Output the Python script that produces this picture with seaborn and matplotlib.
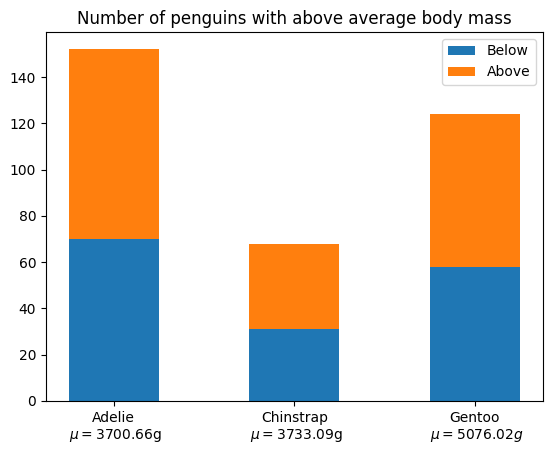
import numpy as np
import pandas as pd
import matplotlib.pyplot as plt
import seaborn as sns

# Data
species = [
    "Adelie\n $\\mu=$3700.66g",
    "Chinstrap\n $\\mu=$3733.09g",
    "Gentoo\n $\\mu=5076.02g$",
]
below = [70, 31, 58]
above = [82, 37, 66]

df = pd.DataFrame({"species": species, "Below": below, "Above": above})

fig, ax = plt.subplots(figsize=(5.52, 4.55), dpi=100)
fig.subplots_adjust(left=0.0833, right=0.983, top=0.930, bottom=0.1187)

sns.barplot(data=df, x="species", y="Below", color="tab:blue", saturation=1,
            width=0.5, label="Below", ax=ax)
sns.barplot(data=df, x="species", y="Above", color="tab:orange", saturation=1,
            width=0.5, label="Above", bottom=df["Below"], ax=ax)

ax.set_xlabel("")
ax.set_ylabel("")
# same padding matplotlib would give around the bars
ax.set_xlim(-0.375, 2.375)
ax.set_ylim(0, 152 * 1.05)
ax.set_title("Number of penguins with above average body mass")
ax.legend(loc="upper right")

plt.savefig("out.png")
